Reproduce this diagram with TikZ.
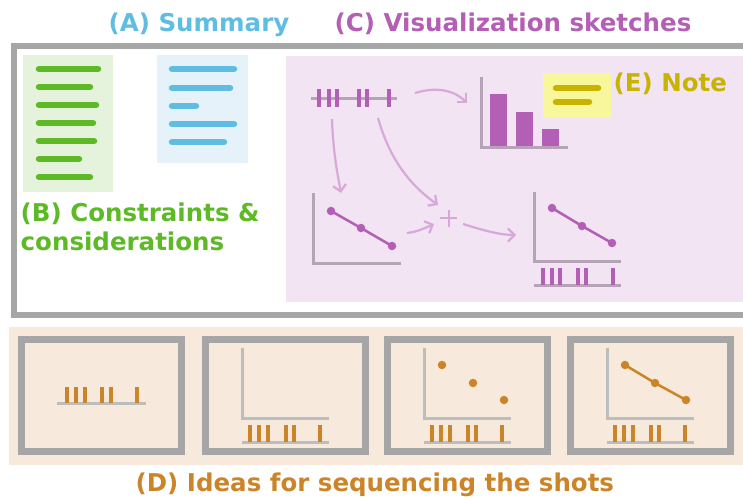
\documentclass[tikz,border=0pt]{standalone}
\usepackage{fontspec}
\setmainfont{DejaVu Sans}
\usetikzlibrary{arrows.meta}
\definecolor{framegray}{HTML}{A6A6A6}
\definecolor{cblue}{HTML}{5FBDE2}
\definecolor{cgreen}{HTML}{5DB926}
\definecolor{cpurple}{HTML}{B35FB5}
\definecolor{cgold}{HTML}{C8B300}
\definecolor{corange}{HTML}{CC8428}
\definecolor{bgpink}{HTML}{F2E4F2}
\definecolor{bggreen}{HTML}{E6F3DC}
\definecolor{bgblue}{HTML}{E6F2F9}
\definecolor{bgyellow}{HTML}{F9F79B}
\definecolor{bgorange}{HTML}{F7EADC}
\definecolor{axpink}{HTML}{B7A3B7}
\definecolor{axgray}{HTML}{BABEBE}
\definecolor{arrpink}{HTML}{D9A8DA}
\tikzset{
  title/.style={font=\bfseries\fontsize{24.5}{29}\selectfont, inner sep=0pt, anchor=base west},
  bar/.style={line width=6.5pt, line cap=round},
  tick/.style={line width=3.2pt},
  axis/.style={line width=3pt},
  sk/.style={draw=arrpink, line width=2.2pt, -{Straight Barb[length=6.5pt,width=13pt,line width=2.2pt]}},
  shot/.style={draw=framegray, line width=7pt},
  dot/.style={circle, inner sep=0pt, minimum size=8.5pt}
}
\begin{document}
\begin{tikzpicture}[x=1pt,y=-1pt]
\useasboundingbox (0,0) rectangle (743,498);
\begin{scope}
\clip (0,0) rectangle (743,498);
% titles
\node[title, text=cblue] (tA) at (108.5,31) {(A) Summary};
\node[title, text=cpurple] (tC) at (334.5,31) {(C) Visualization sketches};
% main frame
\fill[bgpink] (286,56) rectangle (750,302);
\draw[framegray, line width=6pt] (750,46) -- (14,46) -- (14,315) -- (750,315);
% constraints box
\fill[bggreen] (23,55) rectangle (113,192);
\foreach \y/\e in {69/98, 87/90, 105/96, 123/93, 141/94, 159/79, 177/90}
  \draw[bar, cgreen] (39,\y) -- (\e,\y);
\node[title, text=cgreen] (tB1) at (20.5,221) {(B) Constraints \&};
\node[title, text=cgreen] (tB2) at (20.5,250.5) {considerations};
% summary box
\fill[bgblue] (157,55) rectangle (248,163);
\foreach \y/\e in {69/234, 88/230, 106/196, 124/234, 142/224}
  \draw[bar, cblue] (172,\y) -- (\e,\y);
% timeline sketch
\draw[axis, axpink] (311,98) -- (397,98);
\foreach \x in {319,329,337,359,367,389}
  \draw[tick, cpurple] (\x,89) -- (\x,107);
% bar chart
\foreach \a/\b/\t in {490/507/94, 516/533/112, 542/559/129}
  \fill[cpurple] (\a,\t) rectangle (\b,147);
\draw[axis, axpink] (481,77) -- (481,147) -- (568,147);
% note
\fill[bgyellow] (543,73) rectangle (611,118);
\draw[bar, cgold] (556,88) -- (598,88);
\draw[bar, cgold] (556,102) -- (589,102);
\node[title, text=cgold] (tE) at (613.5,91.5) {(E) Note};
% line chart 1
\draw[axis, axpink] (313,193) -- (313,263) -- (401,263);
\node[dot, fill=cpurple] (p1) at (331,211) {};
\node[dot, fill=cpurple] (p2) at (361,228) {};
\node[dot, fill=cpurple] (p3) at (392,246) {};
\draw[cpurple, line width=2.5pt] (p1.center) -- (p2.center) -- (p3.center);
% line chart 2 with timeline
\draw[axis, axpink] (534,192) -- (534,261) -- (621,261);
\node[dot, fill=cpurple] (q1) at (552,208) {};
\node[dot, fill=cpurple] (q2) at (582,226) {};
\node[dot, fill=cpurple] (q3) at (612,243) {};
\draw[cpurple, line width=2.5pt] (q1.center) -- (q2.center) -- (q3.center);
\draw[axis, axpink] (534,285) -- (621,285);
\foreach \x in {543,552,560,578,586,613}
  \draw[tick, cpurple] (\x,268) -- (\x,285);
% plus
\draw[arrpink, line width=2pt] (440,218) -- (457,218) (448.5,210) -- (448.5,227);
% sketch arrows
\coordinate (a1s) at (415,93); \coordinate (a1e) at (467,103);
\coordinate (a2s) at (332,119); \coordinate (a2e) at (341,193);
\coordinate (a3s) at (378,118); \coordinate (a3e) at (438,205);
\coordinate (a4s) at (407,233); \coordinate (a4e) at (434,224);
\coordinate (a5s) at (463,224); \coordinate (a5e) at (516,235);
\draw[sk] (a1s) .. controls (438,86) and (455,91) .. (a1e);
\draw[sk] (a2s) .. controls (333,150) and (337,172) .. (a2e);
\draw[sk] (a3s) .. controls (390,160) and (410,185) .. (a3e);
\draw[sk] (a4s) .. controls (417,232) and (425,228) .. (a4e);
\draw[sk] (a5s) .. controls (482,230) and (500,235) .. (a5e);
% bottom panel
\fill[bgorange] (9,327) rectangle (750,465);
\foreach \x in {18,202,384,567}
  \draw[shot] (\x+3.5,339.5) rectangle (\x+163.5,451.5);
% shot 1
\draw[axis, axgray] (57,403) -- (146,403);
\foreach \d in {49,58,67,84,93,119}
  \draw[tick, corange] (18+\d,387) -- (18+\d,403);
% shots 2-4 axes + timelines
\foreach \x in {202,384,567} {
  \draw[axis, axgray] (\x+40,348) -- (\x+40,418) -- (\x+127,418);
  \draw[axis, axgray] (\x+40,442) -- (\x+127,442);
  \foreach \d in {48,57,66,84,92,118}
    \draw[tick, corange] (\x+\d,425) -- (\x+\d,442);
}
% shot 3 dots
\node[dot, fill=corange] (r1) at (442,365) {};
\node[dot, fill=corange] (r2) at (473,383) {};
\node[dot, fill=corange] (r3) at (504,400) {};
% shot 4 line
\node[dot, fill=corange] (s1) at (625,365) {};
\node[dot, fill=corange] (s2) at (655,383) {};
\node[dot, fill=corange] (s3) at (686,400) {};
\draw[corange, line width=2.5pt] (s1.center) -- (s2.center) -- (s3.center);
\node[title, text=corange] (tD) at (135.5,491) {(D) Ideas for sequencing the shots};
\end{scope}
\end{tikzpicture}
\end{document}
